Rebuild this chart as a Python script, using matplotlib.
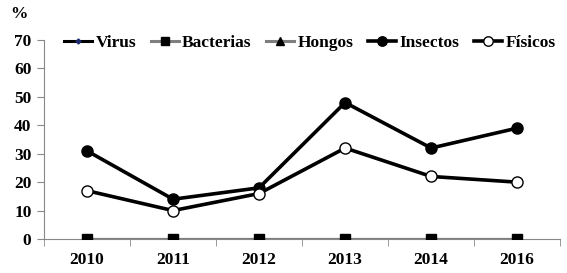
import matplotlib
matplotlib.use("Agg")
from matplotlib import pyplot as plt
import numpy as np

years = ["2010", "2011", "2012", "2013", "2014", "2016"]
virus = [0, 0, 0, 0, 0, 0]
bacterias = [0, 0, 0, 0, 0, 0]
hongos = [0, 0, 0, 0, 0, 0]
insectos = [31, 14, 18, 48, 32, 39]
fisicos = [17, 10, 16, 32, 22, 20]

plt.rcParams["font.family"] = ["Liberation Serif", "DejaVu Serif"]
plt.rcParams["font.weight"] = "bold"

fig = plt.figure(figsize=(5.67, 2.73), dpi=100)
ax = fig.add_axes([0.0776, 0.1245, 0.9104, 0.729])

x = np.arange(len(years))
ax.plot(x, hongos, color="#7f7f7f", lw=2.2, marker="^", ms=7, mfc="black", mec="black", label="Hongos", zorder=2)
ax.plot(x, bacterias, color="#7f7f7f", lw=2.2, marker="s", ms=7, mfc="black", mec="black", label="Bacterias", zorder=3)
ax.plot(x, virus, color="black", lw=2.2, marker="D", ms=3, mfc="#1f2a6e", mec="#1f2a6e", label="Virus", zorder=1)
ax.plot(x, insectos, color="black", lw=2.6, marker="o", ms=8, mfc="black", mec="black", label="Insectos", zorder=4)
ax.plot(x, fisicos, color="black", lw=2.6, marker="o", ms=8, mfc="white", mec="black", label="Físicos", zorder=4)

ax.set_xlim(-0.5, len(years) - 0.5)
ax.set_ylim(0, 70)
ax.set_yticks(range(0, 71, 10))
ax.set_xticks(x)
ax.set_xticklabels(years)
ax.set_xticks(np.arange(-0.5, len(years), 1), minor=True)
ax.tick_params(axis="x", which="major", length=0, pad=9, labelsize=12.5)
ax.tick_params(axis="x", which="minor", length=5, color="#888888", direction="out")
ax.tick_params(axis="y", length=5, color="#888888", labelsize=12.5, pad=4)
for lbl in ax.get_xticklabels() + ax.get_yticklabels():
    lbl.set_fontweight("bold")

for s in ["top", "right"]:
    ax.spines[s].set_visible(False)
ax.spines["left"].set_color("#888888")
ax.spines["bottom"].set_color("#888888")

fig.text(0.034, 0.95, "%", fontsize=12.5, fontweight="bold", ha="center", va="center")

h, l = ax.get_legend_handles_labels()
order = [2, 1, 0, 3, 4]
ax.legend([h[i] for i in order], [l[i] for i in order], loc="center", bbox_to_anchor=(0.515, 0.985),
          ncol=5, frameon=False, handlelength=1.6, handletextpad=0.2, markerscale=0.85,
          columnspacing=0.85, borderaxespad=0, prop={"weight": "bold", "size": 12.5})

fig.savefig("out.png", dpi=100)
